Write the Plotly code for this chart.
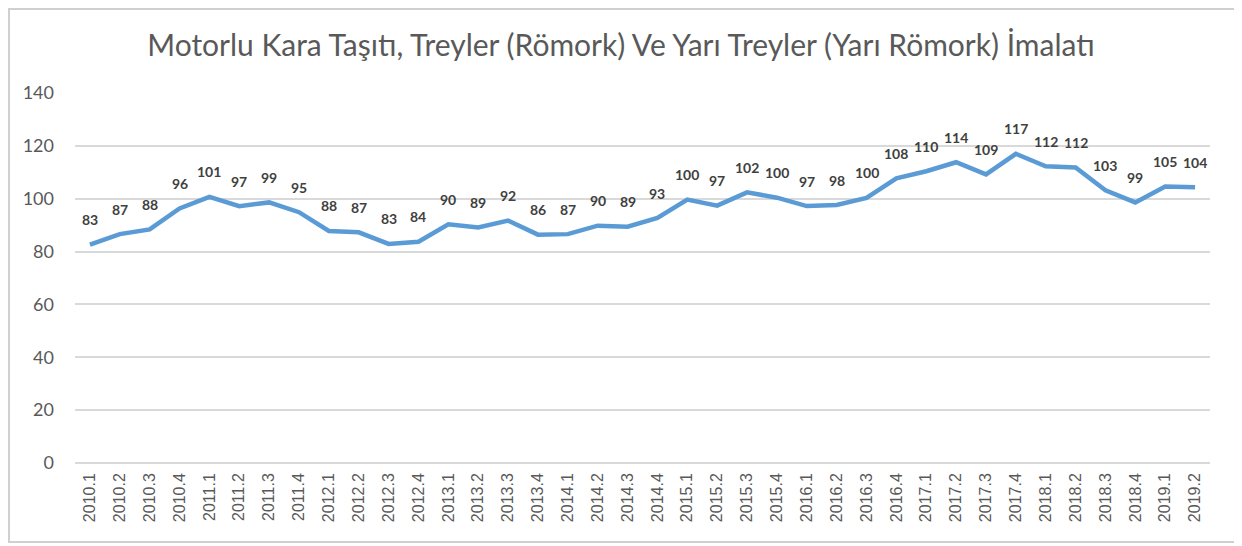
import plotly.graph_objects as go

categories = ["2010.1","2010.2","2010.3","2010.4","2011.1","2011.2","2011.3","2011.4",
              "2012.1","2012.2","2012.3","2012.4","2013.1","2013.2","2013.3","2013.4",
              "2014.1","2014.2","2014.3","2014.4","2015.1","2015.2","2015.3","2015.4",
              "2016.1","2016.2","2016.3","2016.4","2017.1","2017.2","2017.3","2017.4",
              "2018.1","2018.2","2018.3","2018.4","2019.1","2019.2"]
values = [82.6, 86.6, 88.4, 96.3, 100.7, 97.2, 98.6, 94.9,
          87.8, 87.3, 82.9, 83.7, 90.3, 89.1, 91.7, 86.4,
          86.6, 89.8, 89.4, 92.7, 99.7, 97.4, 102.4, 100.4,
          97.2, 97.6, 100.3, 107.7, 110.4, 113.8, 109.2, 117.0,
          112.3, 111.8, 103.2, 98.6, 104.6, 104.3]
y_ticks = [0, 20, 40, 60, 80, 100, 120, 140]
title_text = "Motorlu Kara Taşıtı, Treyler (Römork) Ve Yarı Treyler (Yarı Römork) İmalatı"

# page body has an 8px offset; layout numbers below compensate for it
OFF = 8
L, R_EDGE, TOP, BOT = 75 - OFF, 1210 - OFF, 93 - OFF, 463 - OFF
W, H = 1242, 546
PW, PH = R_EDGE - L, BOT - TOP

fig = go.Figure()
fig.add_trace(go.Scatter(
    x=categories, y=values, mode="lines",
    line=dict(color="#5B9BD5", width=4.5),
    hoverinfo="x+y", showlegend=False,
))

annotations = []
for i, v in enumerate(values):
    annotations.append(dict(
        x=i, y=v, xref="x", yref="y", text=f"{v:.0f}", showarrow=False,
        yshift=25, yanchor="middle",
        font=dict(family="Lato", size=14, color="#404040", weight="bold"),
    ))

fig.update_layout(
    width=W, height=H,
    paper_bgcolor="white", plot_bgcolor="white",
    margin=dict(l=L, r=W - R_EDGE, t=TOP, b=H - BOT),
    title=dict(text=title_text, x=(621 - OFF) / W, xanchor="center",
               y=1 - (45 - OFF) / H, yanchor="middle",
               font=dict(family="Lato", size=30, color="#595959")),
    xaxis=dict(type="category", tickangle=-90, showgrid=False, showline=False,
               ticks="", ticklabelstandoff=6,
               tickfont=dict(family="Liberation Sans", size=16, color="#595959"),
               range=[-0.5, len(categories) - 0.5]),
    yaxis=dict(range=[0, 140], tickvals=y_ticks, showgrid=True, gridcolor="#D9D9D9",
               gridwidth=1.5, zeroline=True, zerolinecolor="#D9D9D9", zerolinewidth=1.5,
               ticks="", ticklabelstandoff=20,
               tickfont=dict(family="Lato", size=18, color="#595959")),
    annotations=annotations,
    shapes=[dict(type="rect", xref="paper", yref="paper",
                 x0=(1 - L) / PW, x1=(1237 - OFF - L) / PW,
                 y0=-(542 - OFF - BOT) / PH, y1=(BOT - 1) / PH,
                 line=dict(color="#D0D0D0", width=2), fillcolor="rgba(0,0,0,0)",
                 layer="below")],
)

fig.write_html("out.html")
